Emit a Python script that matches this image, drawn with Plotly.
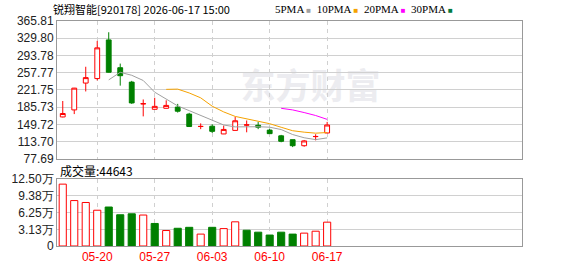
import plotly.graph_objects as go
import pandas as pd

# ---------------- data ----------------
dates = ["05-15", "05-18", "05-19", "05-20", "05-21", "05-22", "05-25", "05-26",
         "05-27", "05-28", "05-29", "06-01", "06-02", "06-03", "06-04", "06-05",
         "06-08", "06-09", "06-10", "06-11", "06-12", "06-15", "06-16", "06-17"]
opens = [165.3, 180.0, 236.1, 245.5, 326.3, 268.2, 238.1, 192.6, 181.3, 183.4, 185.9, 171.3,
         145.3, 145.9, 129.8, 137.2, 148.3, 147.9, 137.8, 125.8, 117.8, 105.2, 124.2, 131.8]
closes = [172.5, 225.5, 247.5, 309.7, 258.7, 251.5, 194.6, 193.0, 187.4, 189.4, 177.3, 145.3,
          145.5, 135.2, 139.2, 157.3, 148.7, 143.9, 130.4, 114.4, 105.2, 115.2, 124.5, 148.5]
highs = [198.6, 226.0, 270.2, 324.3, 342.3, 276.8, 240.7, 201.8, 205.4, 200.0, 192.6, 173.9,
         151.9, 149.9, 147.3, 165.3, 157.9, 154.6, 140.4, 127.8, 117.8, 117.2, 129.2, 155.0]
lows = [164.5, 171.3, 218.6, 241.6, 258.0, 230.7, 192.6, 166.5, 181.0, 183.0, 174.5, 144.5,
        139.8, 131.8, 129.5, 137.0, 133.2, 139.8, 130.4, 112.4, 102.3, 103.1, 116.4, 131.5]
volumes = [115900, 85100, 81500, 67000, 73000, 58500, 60300, 58000, 42200, 29000, 33200, 35000,
           22300, 35000, 32600, 45300, 29500, 25900, 20500, 25900, 22300, 24100, 27700, 44643]
vol_up = [1, 1, 1, 1, 0, 0, 0, 1, 0, 1, 0, 0, 1, 0, 1, 1, 0, 0, 0, 0, 0, 1, 1, 1]

price_ticks = [77.69, 113.70, 149.72, 185.73, 221.75, 257.77, 293.78, 329.80, 365.81]
price_labels = ["77.69", "113.70", "149.72", "185.73", "221.75", "257.77", "293.78", "329.80", "365.81"]
vol_ticks = [0, 31250, 62500, 93750, 125000]
vol_labels = ["0", "3.13万", "6.25万", "9.38万", "12.50万"]
date_tick_idx = [3, 8, 13, 18, 23]
ma_periods = [5, 10, 20, 30]
ma_colors = ["#A0A0A0", "#F5A200", "#FF00FF", "#007A3D"]
title_text = "锐翔智能[920178] 2026-06-17 15:00"

RED = "#FF0000"
GREEN = "#008000"
GRID = "#D0D0D0"
FRAME = "#999999"

W, H = 578, 276
ML, MR, MT, MB = 56, 56, 21, 20


def px(x):
    return (x - ML) / (W - ML - MR)


def py(y):
    return (H - MB - y) / (H - MT - MB)


x = list(range(len(dates)))
fig = go.Figure()

fig.add_trace(go.Candlestick(
    x=x, open=opens, high=highs, low=lows, close=closes,
    increasing=dict(line=dict(color=RED, width=1), fillcolor="white"),
    decreasing=dict(line=dict(color=GREEN, width=1), fillcolor=GREEN),
    whiskerwidth=0, xaxis="x", yaxis="y", showlegend=False, hoverinfo="skip"))

s = pd.Series(closes)
for n, c in zip(ma_periods, ma_colors):
    ma = s.rolling(n).mean()
    fig.add_trace(go.Scatter(x=x, y=ma, mode="lines", line=dict(color=c, width=1),
                             xaxis="x", yaxis="y", showlegend=False, hoverinfo="skip"))

fig.add_trace(go.Bar(
    x=x, y=volumes, width=0.62,
    marker=dict(color=["white" if u else GREEN for u in vol_up],
                line=dict(color=[RED if u else GREEN for u in vol_up], width=1)),
    xaxis="x2", yaxis="y2", showlegend=False, hoverinfo="skip"))

xcommon = dict(range=[-0.5, 39.95], tickmode="array", tickvals=date_tick_idx,
               showgrid=True, gridcolor=GRID, griddash="4px,4px", gridwidth=1,
               showline=True, mirror=True, linecolor=FRAME, linewidth=1,
               zeroline=False, ticks="", fixedrange=True)
fig.update_layout(
    width=W, height=H,
    margin=dict(l=ML, r=MR, t=MT, b=MB),
    paper_bgcolor="white", plot_bgcolor="white",
    boxgap=0.4,
    bargap=0.3,
    xaxis=dict(xcommon, anchor="y", showticklabels=False, rangeslider=dict(visible=False)),
    xaxis2=dict(xcommon, anchor="y2", matches="x",
                ticktext=[dates[i] for i in date_tick_idx], showticklabels=True,
                tickfont=dict(family="Liberation Sans, Arial", size=12, color=RED)),
    yaxis=dict(domain=[py(165), 1], range=[price_ticks[0], price_ticks[-1]],
               tickmode="array", tickvals=price_ticks, ticktext=price_labels,
               showgrid=True, gridcolor=GRID, zeroline=False,
               showline=True, mirror=True, linecolor=FRAME, linewidth=1,
               tickfont=dict(family="Liberation Sans, Arial", size=12, color="#222222"),
               anchor="x", ticks=""),
    yaxis2=dict(domain=[0, py(186.3)], range=[0, vol_ticks[-1]],
                tickmode="array", tickvals=vol_ticks, ticktext=vol_labels,
                showgrid=True, gridcolor=GRID, zeroline=False,
                showline=True, mirror=True, linecolor=FRAME, linewidth=1,
                tickfont=dict(family="Liberation Sans, Arial", size=12, color="#222222"),
                anchor="x2", ticks=""),
    font=dict(family="Noto Sans CJK SC"),
)

# watermark (below traces)
fig.add_shape(type="rect", xref="paper", yref="paper",
              x0=px(236), x1=px(384), y0=py(112), y1=py(74),
              line=dict(width=0), fillcolor="rgba(0,0,0,0)", layer="below",
              label=dict(text="<b>东方财富</b>", textposition="middle center",
                         font=dict(family="Noto Sans CJK SC", size=35, color="#ECECF0")))

# title
fig.add_annotation(xref="paper", yref="paper", x=px(50), y=py(8), xanchor="left", yanchor="middle",
                   text=title_text, showarrow=False,
                   font=dict(family="Noto Sans CJK SC", size=11, color="#000000"))
# legend (single text line)
legend_text = "&nbsp;&nbsp;".join(
    f"{n}PMA<span style='color:{c};font-size:8px'>&nbsp;■</span>" for n, c in zip(ma_periods, ma_colors))
fig.add_annotation(xref="paper", yref="paper", x=px(455), y=py(8), xanchor="right", yanchor="middle",
                   text=legend_text, showarrow=False,
                   font=dict(family="Liberation Serif, Times New Roman", size=11, color="#000000"))
# volume label
fig.add_annotation(xref="paper", yref="paper", x=px(57), y=py(177), xanchor="left", yanchor="middle",
                   text=f"成交量:{volumes[-1]}", showarrow=False,
                   font=dict(family="Noto Sans CJK SC", size=12, color="#000000"))

fig.write_html("out.html")
